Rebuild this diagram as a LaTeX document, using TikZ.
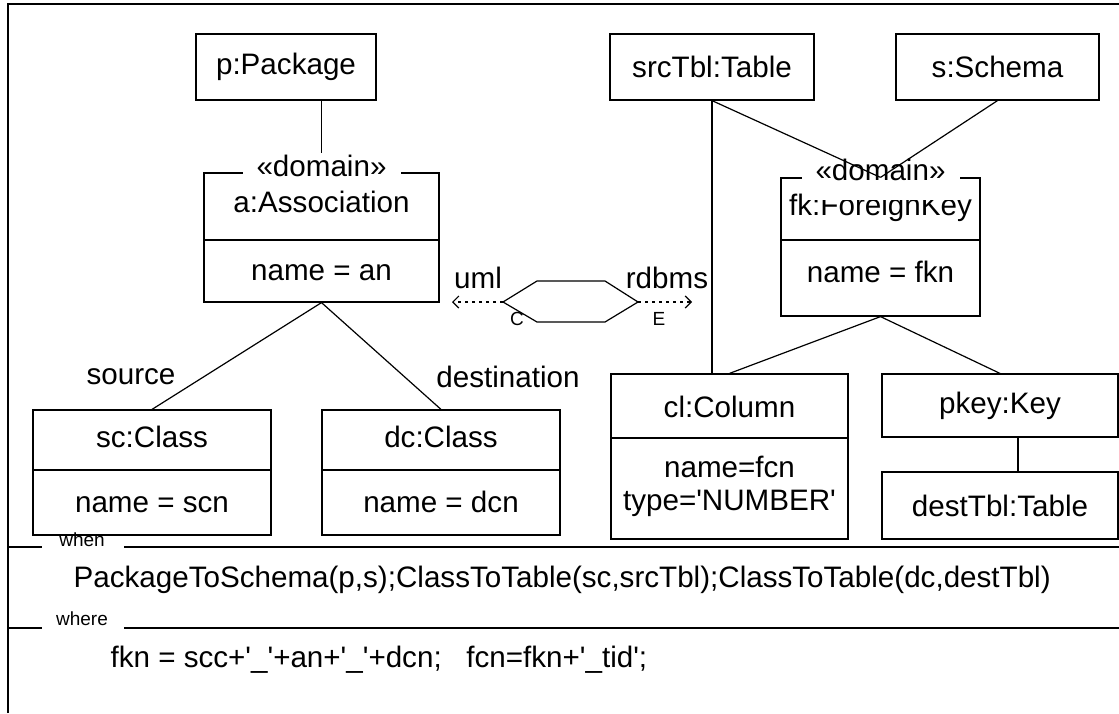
\documentclass[tikz,border=0pt]{standalone}
\usepackage{fontspec}
\setmainfont{Liberation Sans}[Ligatures=TeXOff]
\usetikzlibrary{arrows.meta}
\begin{document}
\begin{tikzpicture}[x=0.5pt, y=-0.5pt, line width=0.6pt,
  every node/.style={font=\fontsize{14.8pt}{17pt}\selectfont},
  objbox/.style={draw, inner sep=0pt},
  stereo/.style={fill=white, inner xsep=7pt, inner ysep=1pt, anchor=base},
  small label/.style={font=\fontsize{9.5pt}{11pt}\selectfont},
  hex label/.style={font=\fontsize{9.5pt}{11pt}\selectfont, inner sep=0pt},
  dotarrow/.style={-{Straight Barb[length=3pt,width=6pt]}, dash pattern=on 1.5pt off 2pt},
  sepline/.style={line width=0.8pt}]
\useasboundingbox (0,0) rectangle (1119,713);
\draw[line width=1pt] (8,713) -- (8,4) -- (1119,4);
\node[objbox, minimum width=90pt, minimum height=33pt] (pkg) at (286,67) {p:Package};
\node[objbox, minimum width=102pt, minimum height=33pt] (src) at (712,67) {srcTbl:Table};
\node[objbox, minimum width=101.5pt, minimum height=33pt] (schema) at (997.5,67) {s:Schema};
\node[objbox, minimum width=117.5pt, minimum height=64.5pt] (assoc) at (321.5,237.5) {};
\node[objbox, minimum width=99.5pt, minimum height=69pt] (fk) at (880.5,247) {};
\node[objbox, minimum width=119pt, minimum height=62.5pt] (sc) at (152,472.5) {};
\node[objbox, minimum width=119pt, minimum height=62.5pt] (dc) at (441,472.5) {};
\node[objbox, minimum width=118.5pt, minimum height=82.5pt] (cl) at (729.5,456.5) {};
\node[objbox, minimum width=118pt, minimum height=31.5pt] (pkey) at (1000,405.5) {pkey:Key};
\node[objbox, minimum width=118pt, minimum height=33.5pt] (dest) at (1000,505.5) {destTbl:Table};
\draw (assoc.west |- 0,240) -- (assoc.east |- 0,240);
\draw (fk.west |- 0,240) -- (fk.east |- 0,240);
\draw (sc.west |- 0,470) -- (sc.east |- 0,470);
\draw (dc.west |- 0,470) -- (dc.east |- 0,470);
\draw (cl.west |- 0,438) -- (cl.east |- 0,438);
\node[anchor=base] (assocName) at (321.5,212) {a:Association};
\node[anchor=base] (assocAttr) at (321.5,280) {name = an};
\node[anchor=base] (fkName) at (880.5,215) {fk:ForeignKey};
\node[anchor=base] (fkAttr) at (880.5,282) {name = fkn};
\node[anchor=base] (scName) at (152,447) {sc:Class};
\node[anchor=base] (scAttr) at (152,512) {name = scn};
\node[anchor=base] (dcName) at (441,447) {dc:Class};
\node[anchor=base] (dcAttr) at (441,512) {name = dcn};
\node[anchor=base] (clName) at (729.5,417) {cl:Column};
\node[anchor=base] (clAttrA) at (729.5,477) {name=fcn};
\node[anchor=base] (clAttrB) at (729.5,510) {type='NUMBER'};
\draw (assoc.north) -- (assoc.north |- pkg.south);
\node[stereo, text depth=2pt] (assocDom) at (321.5,176) {«domain»};
\node[stereo, text depth=9pt] (fkDom) at (880.5,180) {«domain»};
\draw (src.south) -- (fk.north);
\draw (schema.south) -- (fk.north);
\draw (src.south) -- (src.south |- cl.north);
\draw (fk.south) -- (cl.north);
\draw (fk.south) -- (pkey.north);
\draw ([xshift=9pt]pkey.south) -- ([xshift=9pt]dest.north);
\draw (assoc.south) -- (sc.north);
\draw (assoc.south) -- (dc.north);
\node (srcRole) at (131,377) {source};
\node (destRole) at (508,377) {destination};
\draw (503,302) coordinate (hexL) -- (537,281) -- (605,281) -- (638,302) coordinate (hexR) -- (605,322) -- (537,322) -- cycle;
\coordinate (umlEnd) at (452,302);
\coordinate (rdbEnd) at (692,302);
\draw[dotarrow] (hexL) -- (umlEnd);
\draw[dotarrow] (hexR) -- (rdbEnd);
\node (uml) at (478,278) {uml};
\node (rdbms) at (667,278) {rdbms};
\node[hex label] (domC) at (517,319) {C};
\node[hex label] (domE) at (659,319) {E};
\node[small label, anchor=base] (when) at (82,546) {when};
\draw[sepline] (8,547) -- (42,547);
\draw[sepline] (124,547) -- (1119,547);
\node[anchor=west, inner xsep=0pt] (whenTxt) at (73,580) {PackageToSchema(p,s);ClassToTable(sc,srcTbl);ClassToTable(dc,destTbl)};
\node[small label, anchor=base] (where) at (82,625) {where};
\draw[sepline] (8,628) -- (42,628);
\draw[sepline] (124,628) -- (1119,628);
\node[anchor=west, inner xsep=0pt] (whereTxt) at (110,660) {fkn = scc+'\_'+an+'\_'+dcn;\ \ \ fcn=fkn+'\_tid';};
\end{tikzpicture}
\end{document}
